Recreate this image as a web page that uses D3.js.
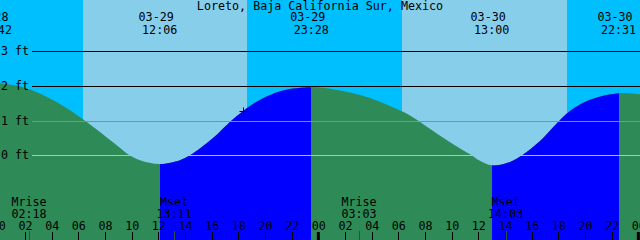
<!DOCTYPE html>
<html>
<head>
<meta charset="utf-8">
<script src="https://cdn.jsdelivr.net/npm/d3@7.9.0/dist/d3.min.js"></script>
<style>
  html, body { margin: 0; padding: 0; background: #00BFFF; }
  svg { display: block; }
  text { font-family: "DejaVu Sans Mono", "Liberation Mono", monospace; font-size: 11.7px; fill: #000; }
</style>
</head>
<body>
<svg id="chart" width="640" height="240"></svg>
<script>
// hours after 03-29 00:00 and tide heights (ft)
const tideHours = [-0.3, 0.125, 1.5, 2.375, 3.875, 5.375, 6.35, 7.625, 8.9, 9.725, 10.625, 12.1,
  13.625, 14.375, 16.1, 17.47, 18.35, 18.875, 20.15, 21.35, 23.467,
  24.875, 26.375, 27.875, 29.375, 30.875, 32.08, 33.875, 35.375, 36.125, 37.0,
  38.375, 39.275, 40.625, 41.75, 42.875, 44.375, 46.517, 48.125, 48.6];
const tideHeights = [2.10, 2.08, 2.0, 1.90, 1.64, 1.30, 1.04, 0.67, 0.28, 0.03, -0.14, -0.25,
  -0.14, 0.0, 0.5, 1.0, 1.27, 1.42, 1.70, 1.87, 1.96,
  1.92, 1.81, 1.65, 1.42, 1.15, 0.84, 0.38, 0.03, -0.16, -0.29,
  -0.19, 0.0, 0.41, 0.87, 1.28, 1.6, 1.79, 1.76, 1.74];

// high / low tide events
const eventHours = [-0.3, 12.1, 23.467, 37.0, 46.517];
const eventDates = ["03-28", "03-29", "03-29", "03-30", "03-30"];
const eventTimes = ["23:42", "12:06", "23:28", "13:00", "22:31"];
const eventTypes = ["high", "low", "high", "low", "high"];

// sun and moon
const sunriseHours = [6.35, 30.283];
const sunsetHours = [18.633, 42.65];
const moonHours = [2.3, 13.183, 27.05, 38.05];
const moonNames = ["Mrise", "Mset", "Mrise", "Mset"];
const moonTimes = ["02:18", "13:11", "03:03", "14:03"];

const heightTicks = [0, 1, 2, 3];
const hourTicks = d3.range(0, 49, 2);
const nowHour = 18.35;
const title = "Loreto, Baja California Sur, Mexico";

const W = 640, H = 240;
const svg = d3.select("#chart");
const x = d3.scaleLinear().domain([0.125, 48.125]).range([0, W]);
const y = d3.scaleLinear().domain([0, 3]).range([155.3, 51.3]);

// sky: night background, day bands
svg.append("rect").attr("width", W).attr("height", H).attr("fill", "#00BFFF");
svg.selectAll("rect.day")
  .data(sunriseHours.map((r, i) => [r, sunsetHours[i]]))
  .join("rect")
  .attr("class", "day")
  .attr("x", d => x(d[0]))
  .attr("width", d => x(d[1]) - x(d[0]))
  .attr("y", 0).attr("height", H)
  .attr("fill", "#87CEEB")
  .attr("shape-rendering", "crispEdges");

// tide area
const tide = tideHours.map((h, i) => ({ h, v: tideHeights[i] }));
const area = d3.area()
  .x(d => x(d.h))
  .y0(H)
  .y1(d => y(d.v))
  .curve(d3.curveCatmullRom.alpha(0.5));

svg.append("path").attr("d", area(tide)).attr("fill", "#2E8B57");

// flood (rising) spans: from each low to the next high
const flood = [];
eventTypes.forEach((t, i) => {
  if (t === "low" && i + 1 < eventHours.length) flood.push([eventHours[i], eventHours[i + 1]]);
});
const defs = svg.append("defs");
const clip = defs.append("clipPath").attr("id", "flood");
flood.forEach(f => {
  clip.append("rect")
    .attr("x", Math.round(x(f[0])))
    .attr("width", Math.round(x(f[1])) - Math.round(x(f[0])))
    .attr("y", 0).attr("height", H);
});
svg.append("path").attr("d", area(tide)).attr("fill", "#0000FF").attr("clip-path", "url(#flood)");

// height lines
const lineColor = { 0: "#87CEEB", 1: "#55A98B", 2: "#000", 3: "#000" };
svg.selectAll("line.grid")
  .data(heightTicks)
  .join("line")
  .attr("class", "grid")
  .attr("x1", 32).attr("x2", W)
  .attr("y1", d => Math.round(y(d)) + 0.5)
  .attr("y2", d => Math.round(y(d)) + 0.5)
  .attr("stroke", d => lineColor[d])
  .attr("stroke-width", 1);

svg.selectAll("text.ylab")
  .data(heightTicks)
  .join("text")
  .attr("class", "ylab")
  .attr("x", 1)
  .attr("y", d => y(d) + 4)
  .text(d => `${d} ft`);

// title and tide events
svg.append("text").attr("x", W / 2).attr("y", 10).attr("text-anchor", "middle").text(title);

const ev = svg.selectAll("g.event")
  .data(eventHours.map((h, i) => ({ h, date: eventDates[i], time: eventTimes[i] })))
  .join("g")
  .attr("class", "event");
ev.append("text").attr("x", d => x(d.h) - 3.5).attr("y", 21).attr("text-anchor", "middle").text(d => d.date);
ev.append("text").attr("x", d => x(d.h)).attr("y", 34).attr("text-anchor", "middle").text(d => d.time);

// moon events
const moon = svg.selectAll("g.moon")
  .data(moonHours.map((h, i) => ({ h, name: moonNames[i], time: moonTimes[i] })))
  .join("g")
  .attr("class", "moon");
moon.append("text").attr("x", d => x(d.h)).attr("y", 206).attr("text-anchor", "middle").text(d => d.name);
moon.append("text").attr("x", d => x(d.h)).attr("y", 218).attr("text-anchor", "middle").text(d => d.time);
moon.append("line")
  .attr("x1", d => Math.round(x(d.h)) + 0.5).attr("x2", d => Math.round(x(d.h)) + 0.5)
  .attr("y1", 231).attr("y2", H)
  .attr("stroke", "#2F4F4F");

// time axis
const axis = d3.axisTop(x)
  .tickValues(hourTicks)
  .tickSize(8)
  .tickPadding(2)
  .tickFormat(h => d3.format("02")(h % 24));
const ax = svg.append("g").attr("transform", `translate(0,${H})`).call(axis);
ax.select(".domain").remove();
ax.selectAll(".tick line").attr("stroke", "#000").attr("shape-rendering", "crispEdges");
ax.selectAll(".tick text").attr("fill", "#000");
ax.attr("font-size", null).attr("font-family", null);

// midnight marks
svg.selectAll("rect.midnight")
  .data(hourTicks.filter(h => h % 24 === 0))
  .join("rect")
  .attr("class", "midnight")
  .attr("x", d => x(d) - 1.5)
  .attr("width", 3)
  .attr("y", 232).attr("height", 8)
  .attr("fill", "#000");

// current time marker
const nowY = y(tide[tideHours.indexOf(nowHour)].v);
const nx = Math.round(x(nowHour)) + 0.5, ny = Math.round(nowY) + 0.5;
svg.append("path")
  .attr("d", `M${nx - 4},${ny}H${nx + 4}M${nx},${ny - 4}V${ny + 4}`)
  .attr("stroke", "#000")
  .attr("fill", "none");
</script>
</body>
</html>
